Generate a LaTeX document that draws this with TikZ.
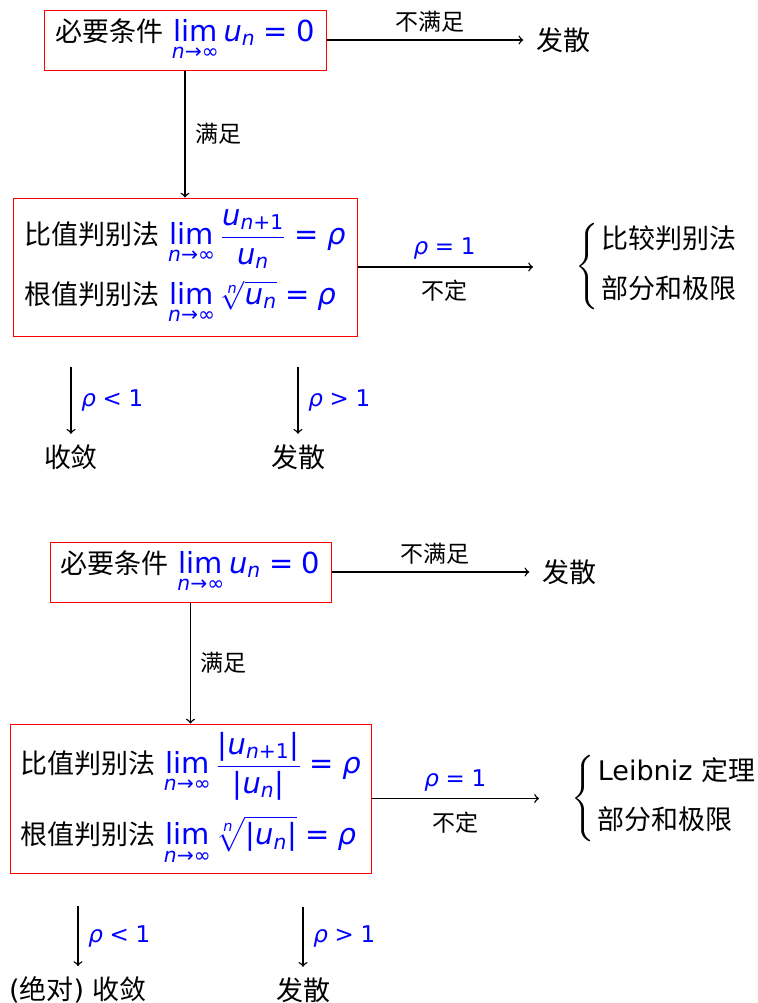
\documentclass[tikz,border=0pt]{standalone}
\usepackage{fontspec}
\usepackage{amsmath}
\setmainfont{DejaVu Sans}
\newfontfamily\cjk{Noto Sans CJK SC}
\newcommand\mainsz{\fontsize{13.5}{16}\selectfont}
\newcommand\mathsz{\fontsize{14.5}{17}\selectfont}
\newcommand\labsz{\fontsize{11.5}{14}\selectfont}
\newcommand\vi[1]{\text{\itshape #1}}
\newcommand\vt[1]{\text{#1}}
\newcommand\limn{\mathop{\vt{lim}}\limits_{\vi{n}\vt{→∞}}}
\newcommand\fm[1]{\textcolor{blue}{\mathsz$\displaystyle #1$}}
\newcommand\fs[1]{\textcolor{blue}{$#1$}}

\begin{document}
\begin{tikzpicture}[x=0.5pt, y=-0.5pt, >=to, line width=0.7pt,
    box/.style={draw=red, line width=0.5pt, font=\mainsz, align=left},
    txt/.style={font=\mainsz, inner xsep=1pt, inner ysep=5pt},
    lab/.style={font=\labsz},
    brc/.style={font=\mainsz, inner sep=0pt, anchor=west}]

      \useasboundingbox (0,0) rectangle (758,1003);

      \node[box, minimum width=141pt, minimum height=30pt] (b1) at (185,40)
        {{\cjk 必要条件} \fm{\limn \vi{u}_{\vi{n}} \mathrel{\vt{=}} \vt{0}}};
      \node[txt] (d1) at (563,40) {\cjk 发散};
      \node[box, minimum width=172pt, minimum height=69pt] (b2) at (185,267)
        {{\cjk 比值判别法} \fm{\limn \frac{\vi{u}_{\vi{n}\vt{+1}}}{\vi{u}_{\vi{n}}} \mathrel{\vt{=}} \vi{ρ}}\\[5pt]
         {\cjk 根值判别法} \fm{\limn \sqrt[\vi{n}]{\vi{u}_{\vi{n}}} \mathrel{\vt{=}} \vi{ρ}}};
      \node[brc] (c1) at (575,267)
        {$\left\{\begin{tabular}{@{\hspace{1.5pt}}l@{}}{\cjk 比较判别法}\\[8.5pt]{\cjk 部分和极限}\end{tabular}\right.$};
      \node[txt] (r1) at (71,457) {\cjk 收敛};
      \node[txt] (r2) at (298,457) {\cjk 发散};

      \draw[->, shorten >=5pt] (b1) -- (d1) node[midway, above, lab] {\cjk 不满足};
      \draw[->] (b1) -- (b2) node[midway, right=1.5pt, lab] {\cjk 满足};
      \draw[->, shorten >=21pt] (b2) -- (c1)
        node[pos=0.4, above, lab] {\fs{\vi{ρ} \mathrel{\vt{=}} \vt{1}}}
        node[pos=0.4, below=3pt, lab] {\cjk 不定};
      \draw[->] (r1.north) ++(0,-67) -- (r1.north)
        node[midway, right=1.5pt, lab] {\fs{\vi{ρ} \mathrel{\vt{<}} \vt{1}}};
      \draw[->] (r2.north) ++(0,-67) -- (r2.north)
        node[midway, right=1.5pt, lab] {\fs{\vi{ρ} \mathrel{\vt{>}} \vt{1}}};

      \node[box, minimum width=140.5pt, minimum height=30pt] (b3) at (190.5,572)
        {{\cjk 必要条件} \fm{\limn \vi{u}_{\vi{n}} \mathrel{\vt{=}} \vt{0}}};
      \node[txt] (d3) at (569,572) {\cjk 发散};
      \node[box, minimum width=180.5pt, minimum height=74.5pt] (b4) at (190.5,798.5)
        {{\cjk 比值判别法} \fm{\limn \frac{\vt{|}\vi{u}_{\vi{n}\vt{+1}}\vt{|}}{\vt{|}\vi{u}_{\vi{n}}\vt{|}} \mathrel{\vt{=}} \vi{ρ}}\\[7pt]
         {\cjk 根值判别法} \fm{\limn \sqrt[\vi{n}]{\vt{|}\vi{u}_{\vi{n}}\vt{|}} \mathrel{\vt{=}} \vi{ρ}}};
      \node[brc] (c2) at (571,798.5)
        {$\left\{\begin{tabular}{@{\hspace{1.5pt}}l@{}}Leibniz {\cjk 定理}\\[8.5pt]{\cjk 部分和极限}\end{tabular}\right.$};
      \node[txt] (r3) at (78,990) {({\cjk 绝对}) {\cjk 收敛}};
      \node[txt] (r4) at (303,990) {\cjk 发散};

      \draw[->, shorten >=5pt] (b3) -- (d3) node[midway, above, lab] {\cjk 不满足};
      \draw[->] (b3) -- (b4) node[midway, right=1.5pt, lab] {\cjk 满足};
      \draw[->, shorten >=16pt] (b4) -- (c2)
        node[pos=0.42, above, lab] {\fs{\vi{ρ} \mathrel{\vt{=}} \vt{1}}}
        node[pos=0.42, below=3pt, lab] {\cjk 不定};
      \draw[->] (r3.north) ++(0,-60) -- (r3.north)
        node[midway, right=1.5pt, lab] {\fs{\vi{ρ} \mathrel{\vt{<}} \vt{1}}};
      \draw[->] (r4.north) ++(0,-60) -- (r4.north)
        node[midway, right=1.5pt, lab] {\fs{\vi{ρ} \mathrel{\vt{>}} \vt{1}}};

    \end{tikzpicture}
\end{document}
